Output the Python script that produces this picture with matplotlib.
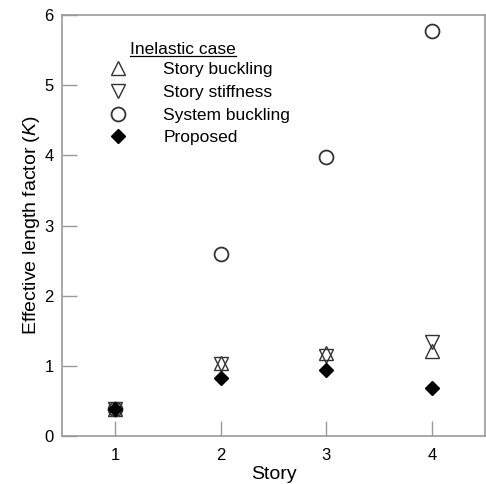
import matplotlib
matplotlib.use("Agg")
import matplotlib.pyplot as plt
from matplotlib.lines import Line2D

plt.rcParams['font.family'] = ['Liberation Sans', 'DejaVu Sans']
plt.rcParams['mathtext.fontset'] = 'custom'
plt.rcParams['mathtext.it'] = 'Liberation Sans:italic'
plt.rcParams['mathtext.rm'] = 'Liberation Sans'

stories = [1, 2, 3, 4]
story_buckling = [0.38, 1.04, 1.19, 1.21]
story_stiffness = [0.38, 1.02, 1.14, 1.34]
system_buckling = [0.38, 2.60, 3.98, 5.77]
proposed = [0.39, 0.83, 0.94, 0.69]

labels = ["Story buckling", "Story stiffness", "System buckling", "Proposed"]

fig = plt.figure(figsize=(4.86, 4.84), dpi=100)
ax = fig.add_axes([62 / 486, 1 - 436 / 484, (485 - 62) / 486, (436 - 15) / 484])

edge = '#333333'
h1, = ax.plot(stories, story_buckling, linestyle='none', marker='^', markersize=9.5,
              markerfacecolor='none', markeredgecolor=edge, markeredgewidth=1.0, label=labels[0])
h2, = ax.plot(stories, story_stiffness, linestyle='none', marker='v', markersize=9.5,
              markerfacecolor='none', markeredgecolor=edge, markeredgewidth=1.0, label=labels[1])
h3, = ax.plot(stories, system_buckling, linestyle='none', marker='o', markersize=10,
              markerfacecolor='none', markeredgecolor=edge, markeredgewidth=1.3, label=labels[2])
h4, = ax.plot(stories, proposed, linestyle='none', marker='D', markersize=7,
              markerfacecolor='black', markeredgecolor='black', label=labels[3])

ax.set_xlim(0.5, 4.5)
ax.set_ylim(0, 6)
ax.set_xticks(stories)
ax.set_yticks(range(0, 7))

spine_col = '#9a9a9a'
for s in ax.spines.values():
    s.set_color(spine_col)
    s.set_linewidth(1.2)
ax.tick_params(direction='in', length=11, width=1.0, color=spine_col,
               labelsize=12, labelcolor='black')
ax.tick_params(axis='x', pad=9)
ax.tick_params(axis='y', pad=6)

ax.set_xlabel("Story", fontsize=14, labelpad=1.5)
ax.set_ylabel("Effective length factor ($\\mathit{K}$)", fontsize=14, labelpad=2)

leg = ax.legend(handles=[h1, h2, h3, h4], loc='upper left', frameon=False,
                bbox_to_anchor=(0.0855, 0.905), fontsize=12.5, handlelength=1.5,
                handletextpad=1.85, labelspacing=0.44, borderaxespad=0)

title = ax.text(0.161, 0.9, "Inelastic case", transform=ax.transAxes,
                fontsize=12.5, ha='left', va='bottom')
fig.canvas.draw()
bb = title.get_window_extent().transformed(fig.transFigure.inverted())
fig.add_artist(Line2D([bb.x0, bb.x1], [bb.y0 + 0.003, bb.y0 + 0.003],
                      transform=fig.transFigure, color='black', linewidth=0.9))

fig.savefig("out.png", dpi=100)
